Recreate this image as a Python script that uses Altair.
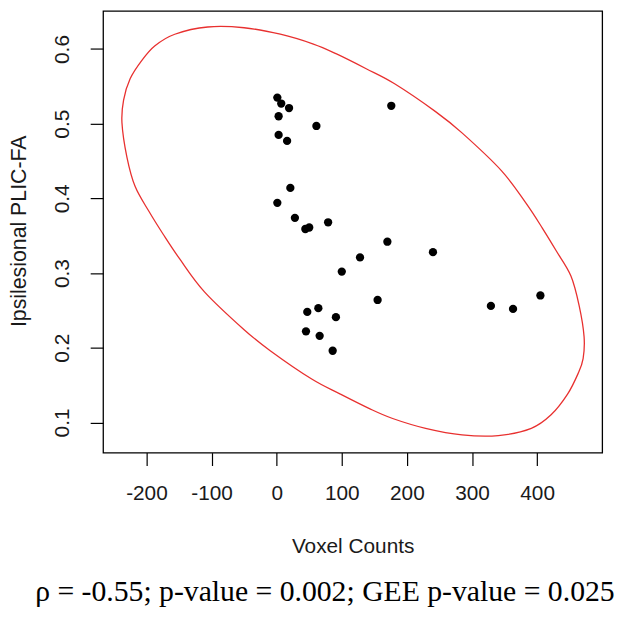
import altair as alt
import pandas as pd

# Scatter data
voxel_counts = [1, 7, 19, 3, 61, 176, 3, 16, 21, 1, 28, 44, 50, 79, 170, 128,
                240, 100, 155, 47, 64, 91, 45, 66, 86, 329, 363, 405]
plic_fa = [0.535, 0.527, 0.521, 0.510, 0.497, 0.524, 0.485, 0.477, 0.414, 0.394,
           0.374, 0.359, 0.361, 0.368, 0.342, 0.321, 0.328, 0.302, 0.264, 0.248,
           0.253, 0.241, 0.222, 0.216, 0.196, 0.256, 0.252, 0.270]

# Ellipse outline
ellipse_x = [-237.6, -235.1, -224.9, -207.3, -186.9, -156.5, -105.9, -50.0, 5.6, 56.4,
             91.9, 137.5, 180.5, 244.0, 284.6, 345.4, 383.4, 408.2, 429.5, 451.9,
             464.5, 472.1, 470.6, 463.0, 446.7, 421.4, 391.0, 340.4, 284.6, 228.7,
             178.1, 142.5, 97.0, 53.8, -9.4, -50.0, -110.9, -148.9, -174.3, -196.0,
             -217.3, -230.0]
ellipse_y = [0.5013, 0.5317, 0.5604, 0.5845, 0.6044, 0.6198, 0.6295, 0.6285, 0.6198, 0.6066,
             0.5934, 0.5736, 0.5538, 0.5162, 0.4877, 0.4369, 0.3929, 0.3599, 0.3295, 0.2961,
             0.2564, 0.2146, 0.1855, 0.1657, 0.1379, 0.1102, 0.0921, 0.0824, 0.0833, 0.0921,
             0.1053, 0.1185, 0.1383, 0.1581, 0.1957, 0.2242, 0.2749, 0.3189, 0.3520, 0.3824,
             0.4158, 0.4554]

x_ticks = [-200, -100, 0, 100, 200, 300, 400]
y_ticks = [0.1, 0.2, 0.3, 0.4, 0.5, 0.6]
x_domain = [-266.6, 499.9]
y_domain = [0.0596, 0.651]

caption = "\u03c1 = -0.55; p-value = 0.002; GEE p-value = 0.025"

pts = pd.DataFrame({"x": voxel_counts, "y": plic_fa})
ell = pd.DataFrame({
    "x": ellipse_x,
    "y": ellipse_y,
    "i": list(range(len(ellipse_x))),
})
cap = pd.DataFrame({"t": [caption]})

W, H = 504, 446

xenc = alt.X("x:Q", scale=alt.Scale(domain=x_domain, nice=False, zero=False),
             axis=alt.Axis(values=x_ticks, title="Voxel Counts",
                           labelExpr="toString(datum.value)",
                           labelBaseline="middle", labelPadding=28, labelAlign="center",
                           titleX=W / 2, titleY=95, titleBaseline="middle",
                           titleAlign="center", titleFontSize=21))
yenc = alt.Y("y:Q", scale=alt.Scale(domain=y_domain, nice=False, zero=False),
             axis=alt.Axis(values=y_ticks, title="Ipsilesional PLIC-FA",
                           labelExpr="toString(datum.value)",
                           labelAngle=270, labelAlign="center", labelBaseline="middle",
                           labelPadding=28, titleX=-84, titleY=222, titleAngle=270,
                           titleAlign="center", titleBaseline="middle", titleFontSize=21.5))

ellipse = alt.Chart(ell).mark_line(color="#e8302f", strokeWidth=1.3,
                                   interpolate="cardinal-closed").encode(
    x=xenc, y=yenc, order="i:Q")

points = alt.Chart(pts).mark_circle(size=70, color="black", opacity=1).encode(
    x="x:Q", y="y:Q")

caption_text = alt.Chart(cap).mark_text(
    font="Liberation Serif", fontSize=30, align="center", baseline="alphabetic",
    color="black").encode(x=alt.value(224), y=alt.value(596), text="t:N")

chart = alt.layer(ellipse, points, caption_text).properties(
    width=W, height=H,
    autosize=alt.AutoSizeParams(type="none"),
    padding={"left": 96, "top": 0, "right": 20, "bottom": 160},
).configure_view(
    stroke="black", strokeWidth=1.3
).configure_axis(
    domain=False, grid=False, ticks=True, tickColor="black", tickSize=13, tickWidth=1.2,
    labelFont="Liberation Sans", labelFontSize=21, labelColor="#1a1a1a",
    titleFont="Liberation Sans", titleColor="#1a1a1a", titleFontWeight="normal",
)

chart.save("out.html", embed_options={"renderer": "svg", "actions": False})
